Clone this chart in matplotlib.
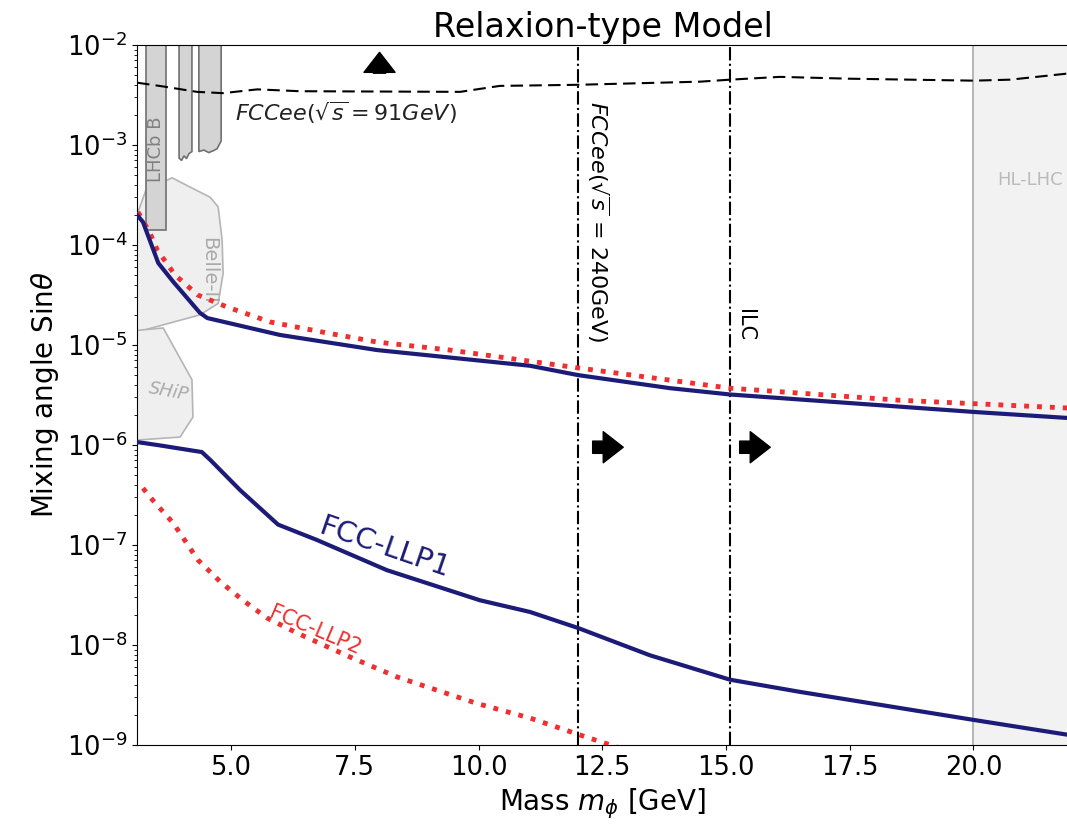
import numpy as np
import matplotlib
matplotlib.use("Agg")
import matplotlib.pyplot as plt

# FCC-LLP1 reach (upper and lower edges), mass in GeV
llp1_up_m = [3.10, 3.22, 3.53, 3.83, 4.37, 4.52, 5.99, 7.95, 11.04, 12.01, 13.87, 15.08, 20.01, 21.93]
llp1_up_s = [2.0e-4, 1.7e-4, 6.6e-5, 4.3e-5, 2.1e-5, 1.86e-5, 1.26e-5, 8.9e-6, 6.2e-6, 5.0e-6, 3.7e-6, 3.2e-6, 2.14e-6, 1.86e-6]
llp1_lo_m = [3.10, 3.51, 4.41, 4.58, 5.18, 5.95, 6.74, 8.15, 10.03, 11.04, 12.01, 13.46, 15.08, 16.49, 20.01, 21.93]
llp1_lo_s = [1.07e-6, 1.0e-6, 8.5e-7, 7.1e-7, 3.55e-7, 1.6e-7, 1.12e-7, 5.6e-8, 2.8e-8, 2.14e-8, 1.48e-8, 7.9e-9, 4.5e-9, 3.4e-9, 1.78e-9, 1.26e-9]

# FCC-LLP2 reach (upper and lower edges)
llp2_up_m = [3.12, 3.36, 3.51, 3.87, 4.33, 4.92, 5.79, 6.94, 7.95, 9.42, 12.01, 15.08, 18.52, 21.93]
llp2_up_s = [2.14e-4, 1.32e-4, 8.9e-5, 5.0e-5, 3.16e-5, 2.4e-5, 1.7e-5, 1.32e-5, 1.07e-5, 8.9e-6, 5.9e-6, 3.7e-6, 2.8e-6, 2.34e-6]
llp2_lo_m = [3.22, 3.42, 3.83, 4.33, 4.78, 5.24, 5.73, 6.33, 7.40, 8.35, 9.97, 11.04, 12.05, 12.86]
llp2_lo_s = [3.7e-7, 2.8e-7, 1.66e-7, 7.1e-8, 4.3e-8, 2.8e-8, 1.86e-8, 1.32e-8, 7.6e-9, 4.8e-9, 2.6e-9, 1.86e-9, 1.26e-9, 9.3e-10]

# FCCee at the Z pole
z_m = [3.10, 3.63, 4.31, 4.84, 5.53, 6.39, 9.63, 10.43, 12.01, 14.48, 15.08, 16.09, 17.51, 20.01, 20.74, 21.93]
z_s = [4.2e-3, 3.85e-3, 3.4e-3, 3.3e-3, 3.6e-3, 3.45e-3, 3.4e-3, 3.9e-3, 4.0e-3, 4.3e-3, 4.5e-3, 4.8e-3, 4.6e-3, 4.4e-3, 4.5e-3, 5.2e-3]

# thresholds
m_fcc240 = 12.0
m_ilc = 15.08
m_hllhc = 20.0

# existing / projected bounds
lhcb_m = [3.28, 3.28, 3.69, 3.69]
lhcb_s = [1e-2, 1.4e-4, 1.4e-4, 1e-2]
lhcb2_m = [3.95, 3.95, 4.00, 4.05, 4.10, 4.15, 4.21, 4.21]
lhcb2_s = [1e-2, 7.4e-4, 7.0e-4, 7.8e-4, 7.3e-4, 8.2e-4, 8.6e-4, 1e-2]
lhcb3_m = [4.35, 4.35, 4.45, 4.55, 4.65, 4.72, 4.80, 4.80]
lhcb3_s = [1e-2, 8.6e-4, 8.9e-4, 8.4e-4, 8.8e-4, 9.2e-4, 1.1e-3, 1e-2]
belle_m = [3.10, 3.28, 3.81, 4.17, 4.58, 4.74, 4.82, 4.84, 4.74, 4.37, 3.10]
belle_s = [2.0e-4, 3.55e-4, 4.7e-4, 3.8e-4, 3.0e-4, 2.4e-4, 1.12e-4, 5.2e-5, 2.6e-5, 2.0e-5, 1.35e-5]
ship_m = [3.10, 3.63, 4.21, 4.23, 3.97, 3.10]
ship_s = [1.4e-5, 1.48e-5, 4.5e-6, 1.9e-6, 1.2e-6, 1.12e-6]

fig = plt.figure(figsize=(10.67, 8.26), dpi=100)
ax = fig.add_axes([137/1067, 81/826, 932/1067, 700/826])
ax.set_yscale("log")
ax.set_xlim(3.1, 21.93)
ax.set_ylim(1e-9, 1e-2)

ax.axvspan(m_hllhc, 23, color="#f2f2f2", zorder=0)
ax.axvline(m_hllhc, color="#b0b0b0", lw=1.3, zorder=1)
ax.text(21.15, 4.5e-4, "HL-LHC", color="#bbbbbb", fontsize=13, ha="center", va="center")

ax.fill(belle_m, belle_s, facecolor="#efefef", edgecolor="#b5b5b5", lw=1.2, zorder=1)
ax.fill(ship_m, ship_s, facecolor="#efefef", edgecolor="#b5b5b5", lw=1.2, zorder=1)
for pm, ps in [(lhcb_m, lhcb_s), (lhcb2_m, lhcb2_s), (lhcb3_m, lhcb3_s)]:
    ax.fill(pm, ps, facecolor="#d4d4d4", edgecolor="#707070", lw=1.2, zorder=2)
ax.text(3.48, 9e-4, "LHCb B", rotation=90, color="#808080", fontsize=13, ha="center", va="center", zorder=3)
ax.text(4.55, 5.6e-5, "Belle-II", rotation=-90, color="#aaaaaa", fontsize=14, ha="center", va="center", zorder=3)
ax.text(3.75, 3.4e-6, "SHiP", rotation=-10, color="#aaaaaa", fontsize=13, style="italic", ha="center", va="center", zorder=3)

ax.plot(z_m, z_s, color="black", ls=(0, (6, 3)), lw=1.5, zorder=4)
ax.text(5.08, 2.1e-3, r"$FCCee(\sqrt{s} = 91GeV)$", fontsize=16, color="#222222", va="center")

for m in (m_fcc240, m_ilc):
    ax.axvline(m, color="black", ls="-.", lw=1.5, zorder=4)
ax.text(12.41, 1.7e-4, r"$FCCee(\sqrt{s}$ = 240GeV)", rotation=-90, fontsize=16, ha="center", va="center")
ax.text(15.38, 1.6e-5, "ILC", rotation=-90, fontsize=15, ha="center", va="center")

ax.plot(llp2_up_m, llp2_up_s, color="#ee3030", ls=":", lw=3.5, zorder=5)
ax.plot(llp2_lo_m, llp2_lo_s, color="#ee3030", ls=":", lw=3.5, zorder=5)
ax.plot(llp1_up_m, llp1_up_s, color="#1c1c78", lw=3, zorder=6)
ax.plot(llp1_lo_m, llp1_lo_s, color="#1c1c78", lw=3, zorder=6)
ax.text(8.1, 9.3e-8, "FCC-LLP1", color="#1c1c78", fontsize=21, rotation=-19, ha="center", va="center")
ax.text(6.7, 1.4e-8, "FCC-LLP2", color="#ee3030", fontsize=15, rotation=-23, ha="center", va="center")

arrow = dict(arrowstyle="simple,head_length=0.9,head_width=1.4,tail_width=0.55", fc="black", ec="black", mutation_scale=16)
ax.annotate("", xy=(8.0, 9.0e-3), xytext=(8.0, 4.9e-3), arrowprops=arrow)
ax.annotate("", xy=(12.98, 9.5e-7), xytext=(12.25, 9.5e-7), arrowprops=arrow)
ax.annotate("", xy=(15.95, 9.5e-7), xytext=(15.22, 9.5e-7), arrowprops=arrow)

ax.set_xticks([5.0, 7.5, 10.0, 12.5, 15.0, 17.5, 20.0])
ax.set_xticklabels(["5.0", "7.5", "10.0", "12.5", "15.0", "17.5", "20.0"])
ax.tick_params(axis="both", which="major", labelsize=18.5)
ax.set_xlabel(r"Mass $m_\phi$ [GeV]", fontsize=20)
ax.set_ylabel(r"Mixing angle Sin$\theta$", fontsize=20)
ax.set_title("Relaxion-type Model", fontsize=24)
ax.spines["right"].set_visible(False)

fig.savefig("out.png", dpi=100)
